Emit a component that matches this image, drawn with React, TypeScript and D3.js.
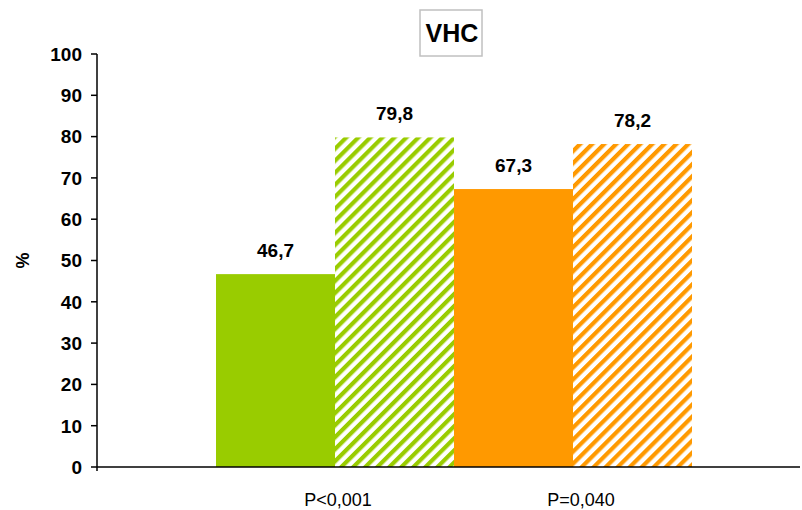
import React from "react";
import * as d3 from "d3";

const categories = ["P<0,001", "P=0,040"];
const series = ["A", "B", "C", "D"];
const values = [46.7, 79.8, 67.3, 78.2];
const valueLabels = ["46,7", "79,8", "67,3", "78,2"];
const yTicks = [0, 10, 20, 30, 40, 50, 60, 70, 80, 90, 100];
const title = "VHC";
const yLabel = "%";

const W = 802;
const H = 510;
const left = 97;
const right = 800;
const top = 54;
const bottom = 467;

export default function App() {
  const y = d3.scaleLinear().domain([0, 100]).range([bottom, top]);
  const x = d3.scaleBand<string>().domain(series).range([216, 692]).padding(0);
  const colors = ["#99CC00", "url(#hatchG)", "#FF9900", "url(#hatchO)"];
  const catX = [338, 581];
  const font = "Arial, 'Liberation Sans', sans-serif";
  return (
    <svg width={W} height={H} style={{ position: "absolute", left: 0, top: 0, fontFamily: font }}>
      <defs>
        <pattern id="hatchG" patternUnits="userSpaceOnUse" width="8.5" height="8.5" patternTransform="rotate(45)">
          <rect width="8.5" height="8.5" fill="#ffffff" />
          <rect width="4.2" height="8.5" fill="#99CC00" />
        </pattern>
        <pattern id="hatchO" patternUnits="userSpaceOnUse" width="8.5" height="8.5" patternTransform="rotate(45)">
          <rect width="8.5" height="8.5" fill="#ffffff" />
          <rect width="4.2" height="8.5" fill="#FF9900" />
        </pattern>
      </defs>
      <rect width={W} height={H} fill="#fff" />
      {values.map((v, i) => (
        <rect key={i} x={x(series[i])} y={y(v)} width={x.bandwidth()} height={y(0) - y(v)} fill={colors[i]} />
      ))}
      {values.map((v, i) => (
        <text key={"l" + i} x={(x(series[i]) as number) + x.bandwidth() / 2} y={y(v) - 17} textAnchor="middle"
          fontSize={19} fontWeight="bold">{valueLabels[i]}</text>
      ))}
      <line x1={left} x2={right} y1={bottom} y2={bottom} stroke="#000" strokeWidth={1.5} />
      <line x1={left} x2={left} y1={top} y2={bottom + 4} stroke="#000" strokeWidth={1.5} />
      {yTicks.map((t) => (
        <g key={t}>
          <line x1={left - 6} x2={left} y1={y(t)} y2={y(t)} stroke="#000" strokeWidth={1.5} />
          <text x={left - 15} y={y(t)} dy="0.36em" textAnchor="end" fontSize={19} fontWeight="bold">{t}</text>
        </g>
      ))}
      {categories.map((c, i) => (
        <text key={c} x={catX[i]} y={506} textAnchor="middle" fontSize={18}>{c}</text>
      ))}
      <text transform={`translate(29,${(top + bottom) / 2}) rotate(-90)`} textAnchor="middle" fontSize={18} fontWeight="bold">{yLabel}</text>
      <rect x={420} y={10} width={62} height={46} fill="#fff" stroke="#c0c0c0" strokeWidth={1.5} />
      <text x={452} y={32.5} dy="0.36em" textAnchor="middle" fontSize={25} fontWeight="bold">{title}</text>
    </svg>
  );
}
